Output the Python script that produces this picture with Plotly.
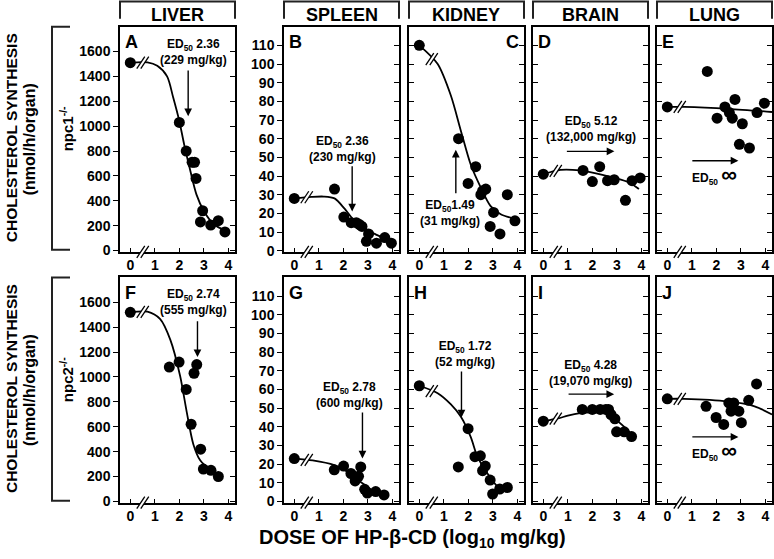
import numpy as np
import plotly.graph_objects as go

# ---------------- data ----------------
organs = ["LIVER", "SPLEEN", "KIDNEY", "BRAIN", "LUNG"]
genotype_labels = ["npc1<sup>-/-</sup>", "npc2<sup>-/-</sup>"]
panel_letters = ["A", "B", "C", "D", "E", "F", "G", "H", "I", "J"]
dose_ticks = [0, 1, 2, 3, 4]
dose_tick_text = ["0", "1", "2", "3", "4"]
liver_ticks = [0, 200, 400, 600, 800, 1000, 1200, 1400, 1600]
other_ticks = [0, 10, 20, 30, 40, 50, 60, 70, 80, 90, 100, 110]

# npc1-/- row
dose_liver_npc1 = [0, 2.0, 2.28, 2.52, 2.62, 2.68, 2.95, 2.86, 3.28, 3.59, 3.86]
synth_liver_npc1 = [1510, 1030, 800, 710, 710, 580, 320, 230, 205, 240, 150]
fitx_liver_npc1 = [0, 0.7, 1.1, 1.5, 1.75, 2.0, 2.2, 2.45, 2.7, 3.0, 3.4, 3.9]
fity_liver_npc1 = [1510, 1512, 1485, 1400, 1230, 1040, 850, 640, 450, 318, 212, 160]

dose_spleen_npc1 = [0, 1.64, 2.02, 2.32, 2.53, 2.66, 2.76, 3.03, 2.94, 3.35, 3.69, 3.96]
synth_spleen_npc1 = [28, 33, 18, 15, 15, 14, 13, 9, 5, 4, 7, 4]
fitx_spleen_npc1 = [0, 0.7, 1.2, 1.64, 2.05, 2.39, 2.87, 3.28, 3.6]
fity_spleen_npc1 = [28, 28.8, 29, 28, 22.5, 17, 12, 9, 7]

dose_kidney_npc1 = [0, 1.6, 2.3, 1.99, 2.58, 2.71, 2.51, 3.59, 3.03, 2.89, 3.29, 3.9]
synth_kidney_npc1 = [110, 60, 45, 36, 32, 33, 30, 30, 20.5, 13, 9, 16]
fitx_kidney_npc1 = [0, 0.75, 1.29, 1.7, 2.1, 2.5, 2.9, 3.32, 3.93]
fity_kidney_npc1 = [110, 100, 83, 64, 46, 34, 24, 19.5, 17]

dose_brain_npc1 = [0, 1.62, 2.0, 2.3, 2.62, 2.89, 3.35, 3.62, 3.95]
synth_brain_npc1 = [41, 43, 37, 45, 37.5, 38, 27, 37.5, 39]
fitx_brain_npc1 = [0, 0.7, 1.5, 2.1, 2.9, 3.5, 3.9]
fity_brain_npc1 = [41, 43.3, 43, 41.6, 39, 36.5, 33]

dose_lung_npc1 = [0, 1.63, 2.76, 2.35, 2.03, 2.53, 2.65, 3.06, 2.94, 3.35, 3.66, 3.96]
synth_lung_npc1 = [77, 96, 81, 77, 71, 74, 71, 68, 57, 55, 74, 79]
fitx_lung_npc1 = [0, 0.7, 2.5, 4.27]
fity_lung_npc1 = [77, 77, 76, 74.3]

# npc2-/- row
dose_liver_npc2 = [0, 1.59, 1.99, 2.28, 2.6, 2.71, 2.48, 2.87, 2.98, 3.29, 3.59]
synth_liver_npc2 = [1520, 1080, 1120, 900, 1030, 1100, 620, 420, 260, 250, 200]
fitx_liver_npc2 = [0, 0.7, 1.22, 1.63, 2.03, 2.3, 2.57, 2.85, 3.3]
fity_liver_npc2 = [1520, 1525, 1465, 1300, 1010, 720, 460, 330, 245]

dose_spleen_npc2 = [0, 1.63, 2.01, 2.31, 2.48, 2.62, 2.71, 2.87, 2.98, 3.32, 3.66]
synth_spleen_npc2 = [23, 17, 19, 15, 11, 13.5, 18.5, 6.5, 4.5, 5.3, 3.5]
fitx_spleen_npc2 = [0, 0.75, 1.63, 2.17, 2.71, 3.25, 3.66]
fity_spleen_npc2 = [23, 22, 19.5, 16, 10.5, 5.5, 3.5]

dose_kidney_npc2 = [0, 1.59, 1.99, 2.27, 2.49, 2.69, 2.58, 2.89, 2.99, 3.28, 3.59]
synth_kidney_npc2 = [62, 18.5, 39, 24, 24.5, 19, 16.5, 11.5, 4, 6.7, 7.5]
fitx_kidney_npc2 = [0, 0.75, 1.29, 1.69, 2.1, 2.37, 2.78, 3.19, 3.5]
fity_kidney_npc2 = [62, 58, 52, 45.5, 34.5, 24, 15, 8, 6]

dose_brain_npc2 = [0, 1.59, 2.0, 2.32, 2.55, 2.66, 2.76, 2.92, 2.99, 3.3, 3.6]
synth_brain_npc2 = [43, 49.3, 49.3, 49.3, 49.3, 49.3, 46.6, 44.3, 37.3, 37.3, 34.8]
fitx_brain_npc2 = [0, 0.6, 1.0, 1.5, 2.0, 2.5, 2.9, 3.3, 3.65]
fity_brain_npc2 = [43, 44.5, 46, 47.3, 47.8, 47.3, 44.5, 40, 35.5]

dose_lung_npc2 = [0, 1.58, 1.99, 2.3, 2.51, 2.71, 2.6, 2.92, 3.02, 3.32, 3.64]
synth_lung_npc2 = [55, 51, 45, 41.3, 52.8, 52.8, 48.4, 48.4, 42.2, 54.2, 63]
fitx_lung_npc2 = [0, 0.68, 2.47, 3.56, 4.27]
fity_lung_npc2 = [55, 55, 53.6, 51, 46.6]

ed50_log = [2.36, 2.36, 1.49, 5.12, None, 2.74, 2.78, 1.72, 4.28, None]
ed50_mgkg = ["229", "230", "31", "132,000", None, "555", "600", "52", "19,070", None]

# assemble per-panel sequences (row-major: npc1 row, npc2 row)
doses = [dose_liver_npc1, dose_spleen_npc1, dose_kidney_npc1, dose_brain_npc1, dose_lung_npc1,
         dose_liver_npc2, dose_spleen_npc2, dose_kidney_npc2, dose_brain_npc2, dose_lung_npc2]
synths = [synth_liver_npc1, synth_spleen_npc1, synth_kidney_npc1, synth_brain_npc1, synth_lung_npc1,
          synth_liver_npc2, synth_spleen_npc2, synth_kidney_npc2, synth_brain_npc2, synth_lung_npc2]
fitxs = [fitx_liver_npc1, fitx_spleen_npc1, fitx_kidney_npc1, fitx_brain_npc1, fitx_lung_npc1,
         fitx_liver_npc2, fitx_spleen_npc2, fitx_kidney_npc2, fitx_brain_npc2, fitx_lung_npc2]
fitys = [fity_liver_npc1, fity_spleen_npc1, fity_kidney_npc1, fity_brain_npc1, fity_lung_npc1,
         fity_liver_npc2, fity_spleen_npc2, fity_kidney_npc2, fity_brain_npc2, fity_lung_npc2]

# ---------------- layout geometry ----------------
W, H = 774, 559
col_px = [(120, 235), (284, 399), (409, 524), (533, 648), (657, 772)]
row_px = [(27, 255), (281, 509)]
XR = [-0.42, 4.27]
LIVER_R = [-10, 1800]
OTHER_R = [-0.6, 120]
FONT = "Arial, Liberation Sans, Helvetica, sans-serif"

def px(X):
    return X / W

def py(Y):
    return 1 - Y / H

fig = go.Figure()
layout = dict(width=W, height=H, margin=dict(l=0, r=0, t=0, b=0), autosize=False,
              paper_bgcolor="white", plot_bgcolor="white", showlegend=False,
              font=dict(family=FONT, color="black", size=12))
shapes = []
annotations = []

# text/arrow placement per panel (positions in data units)
text_pos = [(2.56, 1600), (1.98, 54.4), (1.25, 20), (1.93, 65), (1.93, 40.8),
            (2.57, 1606), (2.24, 56.8), (1.86, 79.2), (1.93, 68.6), (1.93, 27.2)]
arrow_spec = [("v", 1460, 1080), ("v", 46, 21), ("v", 30, 54), ("h", 0.9, 2.9, 53.2), ("h", 0.96, 2.9, 48.2),
              ("v", 1460, 1160), ("v", 48.5, 23), ("v", 70.5, 45), ("h", 0.97, 2.89, 57.5), ("h", 0.96, 2.9, 34.6)]

for i in range(10):
    r, c = divmod(i, 5)
    n = i + 1
    xn = "x" if n == 1 else f"x{n}"
    yn = "y" if n == 1 else f"y{n}"
    yo = f"y{n + 10}"
    xa, xb = col_px[c]
    yt, yb = row_px[r]
    yr = LIVER_R if c == 0 else OTHER_R
    yticks = liver_ticks if c == 0 else other_ticks
    labelled = c in (0, 1)

    fig.add_trace(go.Scatter(x=fitxs[i], y=fitys[i], mode="lines",
                             line=dict(color="black", width=1.8, shape="spline", smoothing=0.8),
                             xaxis=xn, yaxis=yn, hoverinfo="skip"))
    fig.add_trace(go.Scatter(x=doses[i], y=synths[i], mode="markers",
                             marker=dict(color="black", size=11, line=dict(width=0)),
                             xaxis=xn, yaxis=yn))
    fig.add_trace(go.Scatter(x=[None], y=[None], xaxis=xn, yaxis=yo, hoverinfo="skip"))

    layout["xaxis" if n == 1 else f"xaxis{n}"] = dict(
        domain=[px(xa), px(xb)], anchor=yn, range=XR, tickvals=dose_ticks, ticktext=dose_tick_text,
        ticks="inside", ticklen=4, tickwidth=1.3, tickcolor="black", showline=True, mirror=True,
        linecolor="black", linewidth=1.5, showgrid=False, zeroline=False,
        tickfont=dict(family=FONT, size=14, color="black", weight="bold"))
    layout["yaxis" if n == 1 else f"yaxis{n}"] = dict(
        domain=[py(yb), py(yt)], anchor=xn, range=yr, tickvals=yticks,
        ticks="outside" if labelled else "inside", ticklen=5, tickwidth=1.3, tickcolor="black",
        showticklabels=labelled, showline=True, mirror=True, linecolor="black", linewidth=1.5,
        showgrid=False, zeroline=False,
        tickfont=dict(family=FONT, size=14, color="black", weight="bold"))
    layout[f"yaxis{n + 10}"] = dict(
        overlaying=yn, anchor=xn, side="right", range=yr, tickvals=yticks, ticks="inside",
        ticklen=5, tickwidth=1.3, tickcolor="black", showticklabels=False, showline=False,
        showgrid=False, zeroline=False)

    # panel letter
    annotations.append(dict(text=f"<b>{panel_letters[i]}</b>", xref=f"{xn} domain", yref=f"{yn} domain",
                            x=0.97 if i == 2 else 0.03, y=0.985, xanchor="right" if i == 2 else "left",
                            yanchor="top", showarrow=False, font=dict(size=18)))

    # ED50 text
    tx, ty = text_pos[i]
    if ed50_log[i] is None:
        txt = "<b>ED<sub>50</sub> <span style='font-size:22px'>∞</span></b>"
    else:
        sep = "" if i == 2 else " "
        txt = f"<b>ED<sub>50</sub>{sep}{ed50_log[i]:.2f}<br>({ed50_mgkg[i]} mg/kg)</b>"
    annotations.append(dict(text=txt, x=tx, y=ty, xref=xn, yref=yn, showarrow=False,
                            xanchor="center", yanchor="middle", font=dict(size=12)))
    spec = arrow_spec[i]
    if spec[0] == "v":
        ax_, ay_, hx, hy = ed50_log[i], spec[1], ed50_log[i], spec[2]
    else:
        ax_, ay_, hx, hy = spec[1], spec[3], spec[2], spec[3]
    annotations.append(dict(text="", x=hx, y=hy, ax=ax_, ay=ay_, xref=xn, yref=yn, axref=xn, ayref=yn,
                            showarrow=True, arrowhead=2, arrowsize=1.1, arrowwidth=1.4,
                            arrowcolor="black", standoff=0, startstandoff=0))

    # break marks: axis and curve
    cy = float(np.interp(0.55, fitxs[i], fitys[i]))
    for yref, yanc in ((f"{yn} domain", 0), (yn, cy)):
        base = dict(xref=xn, yref=yref, xsizemode="pixel", ysizemode="pixel", xanchor=0.55, yanchor=yanc)
        shapes.append(dict(type="path", path="M-7,-6 L1,6 L5,6 L-3,-6 Z", fillcolor="white",
                           line=dict(width=0), **base))
        shapes.append(dict(type="line", x0=-7, y0=-6, x1=1, y1=6, line=dict(color="black", width=1.3), **base))
        shapes.append(dict(type="line", x0=-3, y0=-6, x1=5, y1=6, line=dict(color="black", width=1.3), **base))

# column headers (bracket boxes)
for c, (xa, xb) in enumerate(col_px):
    shapes.append(dict(type="path", xref="paper", yref="paper",
                       path=f"M{px(xa)},{py(19)} L{px(xa)},{py(1.5)} L{px(xb)},{py(1.5)} L{px(xb)},{py(19)}",
                       line=dict(color="#222", width=2)))
    annotations.append(dict(text=f"<b>{organs[c]}</b>", x=px((xa + xb) / 2), y=py(15), xref="paper",
                            yref="paper", showarrow=False, xanchor="center", yanchor="middle",
                            font=dict(size=18)))

# row brackets and row titles
for r, (yt, yb) in enumerate(row_px):
    yb2 = yb - 2
    shapes.append(dict(type="path", xref="paper", yref="paper",
                       path=f"M{px(70)},{py(yt)} L{px(52)},{py(yt)} L{px(52)},{py(yb2)} L{px(70)},{py(yb2)}",
                       line=dict(color="#222", width=2)))
    mid = (yt + yb) / 2
    annotations.append(dict(text="<b>CHOLESTEROL SYNTHESIS</b>", x=px(11), y=py(mid - 1), xref="paper",
                            yref="paper", textangle=-90, showarrow=False, xanchor="center",
                            yanchor="middle", font=dict(size=15.5)))
    annotations.append(dict(text="<b>(nmol/h/organ)</b>", x=px(29), y=py(mid), xref="paper",
                            yref="paper", textangle=-90, showarrow=False, xanchor="center",
                            yanchor="middle", font=dict(size=16)))
    annotations.append(dict(text=f"<b>{genotype_labels[r]}</b>", x=px(66), y=py(mid - 10), xref="paper",
                            yref="paper", textangle=-90, showarrow=False, xanchor="center",
                            yanchor="middle", font=dict(size=15)))

annotations.append(dict(text="<b>DOSE OF HP-β-CD (log<sub>10</sub> mg/kg)</b>", x=px(412), y=py(545),
                        xref="paper", yref="paper", showarrow=False, xanchor="center", yanchor="middle",
                        font=dict(size=20)))

layout["shapes"] = shapes
layout["annotations"] = annotations
fig.update_layout(**layout)
fig.write_html("out.html", config={"displayModeBar": False},
               post_script="document.body.style.margin='0';document.body.style.overflow='hidden';")
